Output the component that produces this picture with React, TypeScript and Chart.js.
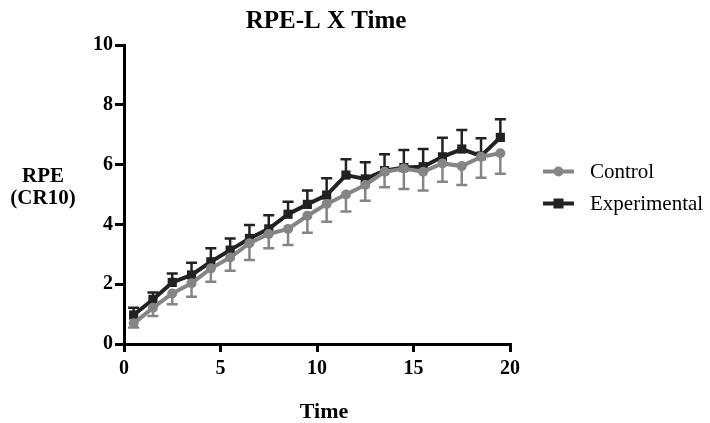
import React, { useEffect, useRef } from "react";
import { Chart, registerables } from "chart.js";

Chart.register(...registerables);

const timePoints = [0.5, 1.5, 2.5, 3.5, 4.5, 5.5, 6.5, 7.5, 8.5, 9.5, 10.5, 11.5, 12.5, 13.5, 14.5, 15.5, 16.5, 17.5, 18.5, 19.5];
const controlMean = [0.69, 1.21, 1.69, 2.03, 2.53, 2.89, 3.37, 3.68, 3.85, 4.29, 4.68, 5.0, 5.32, 5.76, 5.87, 5.76, 6.04, 5.95, 6.26, 6.38];
const controlLow = [0.55, 0.94, 1.33, 1.58, 2.08, 2.45, 2.81, 3.2, 3.31, 3.72, 4.09, 4.43, 4.79, 5.24, 5.18, 5.13, 5.43, 5.32, 5.56, 5.69];
const expMean = [0.97, 1.49, 2.06, 2.31, 2.75, 3.14, 3.53, 3.85, 4.34, 4.67, 4.98, 5.65, 5.52, 5.8, 5.9, 5.93, 6.26, 6.52, 6.29, 6.91];
const expHigh = [1.21, 1.72, 2.36, 2.72, 3.2, 3.53, 3.98, 4.31, 4.76, 5.13, 5.54, 6.18, 6.08, 6.35, 6.49, 6.52, 6.9, 7.16, 6.88, 7.52];
const seriesNames = ["Control", "Experimental"];
const xTicks = [0, 5, 10, 15, 20];

const CONTROL_COLOR = "#858585";
const EXP_COLOR = "#222222";
const FONT = "'Liberation Serif', 'Times New Roman', serif";

export default function App() {
  const ref = useRef<HTMLCanvasElement | null>(null);

  useEffect(() => {
    if (!ref.current) return;
    const errorBars = [controlLow, expHigh];
    const colors = [CONTROL_COLOR, EXP_COLOR];

    const customPlugin = {
      id: "custom",
      beforeDatasetsDraw(chart: any) {
        const ctx = chart.ctx;
        const ys = chart.scales.y;
        ctx.save();
        [0, 1].forEach((di) => {
          const meta = chart.getDatasetMeta(di);
          ctx.strokeStyle = colors[di];
          ctx.lineWidth = 2.5;
          meta.data.forEach((pt: any, i: number) => {
            const x = pt.x;
            const y0 = pt.y;
            const y1 = ys.getPixelForValue(errorBars[di][i]);
            ctx.beginPath();
            ctx.moveTo(x, y0);
            ctx.lineTo(x, y1);
            ctx.moveTo(x - 5.5, y1);
            ctx.lineTo(x + 5.5, y1);
            ctx.stroke();
          });
        });
        ctx.restore();
      },
      afterDraw(chart: any) {
        const ctx = chart.ctx;
        ctx.save();
        ctx.fillStyle = "#000";
        ctx.textAlign = "center";
        ctx.textBaseline = "middle";
        ctx.font = `bold 25px ${FONT}`;
        ctx.fillText("RPE-L X Time", 326, 22);
        ctx.font = `bold 22px ${FONT}`;
        ctx.fillText("Time", 324, 412);
        ctx.font = `bold 21px ${FONT}`;
        ctx.fillText("RPE", 43, 177);
        ctx.fillText("(CR10)", 43, 199);
        // legend
        const items = [
          { y: 171.5, color: CONTROL_COLOR, shape: "circle" },
          { y: 203.5, color: EXP_COLOR, shape: "square" },
        ];
        items.forEach((it, i) => {
          ctx.strokeStyle = it.color;
          ctx.fillStyle = it.color;
          ctx.lineWidth = 4;
          ctx.beginPath();
          ctx.moveTo(543, it.y);
          ctx.lineTo(574, it.y);
          ctx.stroke();
          if (it.shape === "circle") {
            ctx.beginPath();
            ctx.arc(558.5, it.y, 5, 0, Math.PI * 2);
            ctx.fill();
          } else {
            ctx.fillRect(553.5, it.y - 5, 10, 10);
          }
          ctx.fillStyle = "#000";
          ctx.textAlign = "left";
          ctx.font = `21px ${FONT}`;
          ctx.fillText(seriesNames[i], 590, it.y + 1);
        });
        ctx.restore();
      },
    };

    const chart = new Chart(ref.current, {
      type: "line",
      data: {
        datasets: [
          {
            label: seriesNames[0],
            data: timePoints.map((t, i) => ({ x: t, y: controlMean[i] })),
            borderColor: CONTROL_COLOR,
            backgroundColor: CONTROL_COLOR,
            borderWidth: 4,
            pointStyle: "circle",
            pointRadius: 5,
            pointBorderWidth: 0,
          },
          {
            label: seriesNames[1],
            data: timePoints.map((t, i) => ({ x: t, y: expMean[i] })),
            borderColor: EXP_COLOR,
            backgroundColor: EXP_COLOR,
            borderWidth: 4,
            pointStyle: "rect",
            pointRadius: 6.5,
            pointBorderWidth: 0,
          },
        ],
      },
      options: {
        animation: false,
        responsive: false,
        maintainAspectRatio: false,
        layout: { padding: { top: 45, right: 200, left: 0, bottom: 0 } },
        plugins: {
          legend: { display: false },
          title: { display: false },
          tooltip: { enabled: false },
        },
        scales: {
          x: {
            type: "linear",
            min: 0,
            max: 20,
            afterFit: (s: any) => {
              s.height = 79;
            },
            afterBuildTicks: (s: any) => {
              s.ticks = xTicks.map((v) => ({ value: v }));
            },
            border: { display: true, color: "#000", width: 3 },
            grid: {
              display: true,
              drawOnChartArea: false,
              drawTicks: true,
              tickLength: 8,
              color: "#000",
              lineWidth: 3,
            },
            ticks: {
              color: "#000",
              padding: 5,
              font: { family: FONT, size: 20, weight: "bold" },
            },
          },
          y: {
            type: "linear",
            min: 0,
            max: 10,
            afterFit: (s: any) => {
              s.width = 124;
            },
            border: { display: true, color: "#000", width: 3 },
            grid: {
              display: true,
              drawOnChartArea: false,
              drawTicks: true,
              tickLength: 9,
              color: "#000",
              lineWidth: 3,
            },
            ticks: {
              stepSize: 2,
              color: "#000",
              padding: 2,
              font: { family: FONT, size: 20, weight: "bold" },
            },
          },
        },
      },
      plugins: [customPlugin],
    } as any);
    return () => chart.destroy();
  }, []);

  return (
    <div style={{ position: "fixed", left: 0, top: 0, width: 710, height: 423, background: "#fff" }}>
      <canvas ref={ref} width={710} height={423} style={{ width: 710, height: 423 }} />
    </div>
  );
}
